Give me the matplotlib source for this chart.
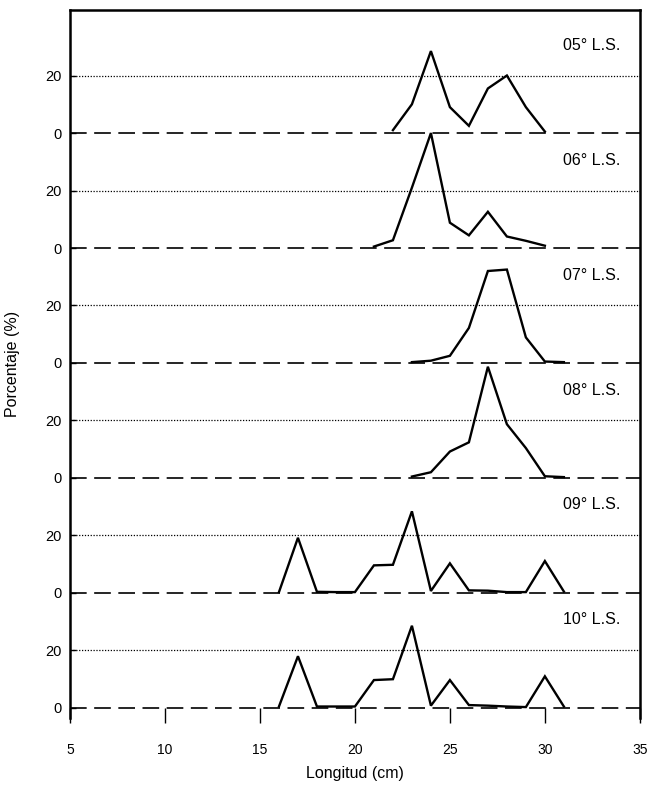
import matplotlib
matplotlib.use("Agg")
import matplotlib.pyplot as plt

plt.rcParams['font.family'] = ['Liberation Sans', 'DejaVu Sans']

# ---- data (percent by length class, cm) ----
labels = ["05° L.S.", "06° L.S.", "07° L.S.", "08° L.S.", "09° L.S.", "10° L.S."]

x05 = [22, 23, 24, 25, 26, 27, 28, 29, 30]
y05 = [1, 10, 28.5, 9, 2.5, 15.5, 20, 9, 0.5]

x06 = [21, 22, 23, 24, 25, 26, 27, 28, 29, 30]
y06 = [0.5, 2.7, 21, 40, 8.8, 4.4, 12.6, 4, 2.5, 0.8]

x07 = [23, 24, 25, 26, 27, 28, 29, 30, 31]
y07 = [0.3, 0.8, 2.5, 12.2, 32, 32.5, 8.9, 0.5, 0.3]

x08 = [23, 24, 25, 26, 27, 28, 29, 30, 31]
y08 = [0.5, 2, 9.2, 12.4, 38.7, 18.7, 10.4, 0.6, 0.3]

x09 = [16, 17, 18, 19, 20, 21, 22, 23, 24, 25, 26, 27, 28, 29, 30, 31]
y09 = [0.3, 19.2, 0.4, 0.3, 0.3, 9.6, 9.8, 28.4, 0.7, 10.3, 0.9, 0.8, 0.3, 0.3, 11.1, 0.5]

x10 = [16, 17, 18, 19, 20, 21, 22, 23, 24, 25, 26, 27, 28, 29, 30, 31]
y10 = [0.5, 18, 0.5, 0.5, 0.5, 9.7, 10, 28.6, 0.8, 9.7, 1, 0.8, 0.5, 0.3, 11, 0.5]

xs = [x05, x06, x07, x08, x09, x10]
ys = [y05, y06, y07, y08, y09, y10]

xticks = [5, 10, 15, 20, 25, 30, 35]
panel_ticks = [0, 20]

# ---- layout ----
spacing = 40
n = len(labels)

fig = plt.figure(figsize=(6.49, 7.86), dpi=100)
ax = fig.add_axes([0.1079, 0.0865, 0.878, 0.9008])

yt, ytl = [], []
for i, (lab, xv, yv) in enumerate(zip(labels, xs, ys)):
    off = (n - 1 - i) * spacing
    ax.axhline(off, color='black', lw=1.2, linestyle=(0, (10, 4.5)), zorder=1)
    ax.axhline(off + 20, color='black', lw=0.9, linestyle=(0, (1, 1.3)), zorder=1)
    ax.plot(xv, [v + off for v in yv], color='black', lw=1.7, zorder=3,
            solid_joinstyle='miter')
    ax.text(34.0, off + 30.6, lab, ha='right', va='center', fontsize=11.5)
    for t in panel_ticks:
        yt.append(off + t)
        ytl.append(str(t))

ax.set_xlim(5, 35)
ax.set_ylim(-3.5, 242.8)
ax.set_xticks(xticks)
ax.set_xticklabels([str(t) for t in xticks], fontsize=10.5)
ax.set_yticks(yt)
ax.set_yticklabels(ytl, fontsize=10.5)

ax.spines['bottom'].set_position(('data', 0))
ax.spines['bottom'].set_visible(False)
for s in ['left', 'top', 'right']:
    ax.spines[s].set_linewidth(1.8)

ax.tick_params(axis='x', direction='out', length=11, width=1.0, pad=14)
ax.tick_params(axis='y', direction='in', length=4, width=1.0, pad=6)

ax.set_xlabel("Longitud (cm)", fontsize=11.5, labelpad=7)
ax.set_ylabel("Porcentaje (%)", fontsize=11.5, labelpad=18)

fig.savefig("out.png", dpi=100)
